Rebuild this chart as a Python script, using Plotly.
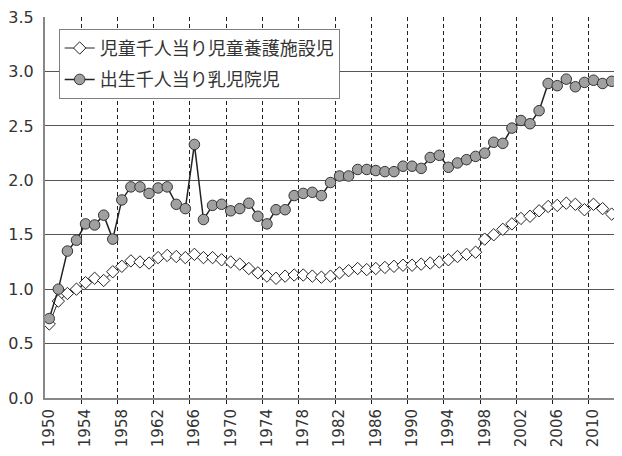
import plotly.graph_objects as go

years = list(range(1950, 2014))

name_children = "児童千人当り児童養護施設児"
name_births = "出生千人当り乳児院児"

children_rate = [
    0.68, 0.89, 0.96, 1.00, 1.06, 1.10, 1.08, 1.16, 1.21, 1.26,
    1.25, 1.24, 1.29, 1.31, 1.30, 1.29, 1.32, 1.29, 1.29, 1.27,
    1.25, 1.23, 1.19, 1.15, 1.12, 1.10, 1.12, 1.13, 1.13, 1.12,
    1.11, 1.12, 1.15, 1.17, 1.19, 1.18, 1.19, 1.20, 1.21, 1.22,
    1.22, 1.23, 1.24, 1.25, 1.27, 1.30, 1.32, 1.34, 1.46, 1.50,
    1.55, 1.60, 1.65, 1.67, 1.72, 1.76, 1.77, 1.79, 1.78, 1.73,
    1.78, 1.74, 1.69, 1.65,
]

births_rate = [
    0.73, 1.00, 1.35, 1.45, 1.60, 1.59, 1.68, 1.46, 1.82, 1.94,
    1.94, 1.88, 1.93, 1.94, 1.78, 1.74, 2.33, 1.64, 1.77, 1.78,
    1.72, 1.74, 1.79, 1.67, 1.60, 1.73, 1.73, 1.86, 1.88, 1.89,
    1.86, 1.98, 2.04, 2.04, 2.10, 2.10, 2.09, 2.08, 2.08, 2.13,
    2.13, 2.11, 2.21, 2.23, 2.12, 2.16, 2.19, 2.22, 2.25, 2.35,
    2.34, 2.48, 2.55, 2.52, 2.64, 2.89, 2.87, 2.93, 2.86, 2.90,
    2.92, 2.89, 2.91, 3.04,
]

x_tick_years = list(range(1950, 2014, 4))
x_tick_labels = [str(y) for y in x_tick_years]
x_boundaries = [y - 0.5 for y in range(1954, 2014, 4)]
y_ticks = [0.0, 0.5, 1.0, 1.5, 2.0, 2.5, 3.0, 3.5]

fig = go.Figure()
fig.add_trace(go.Scatter(
    x=years, y=children_rate, name=name_children, mode="lines+markers",
    legendgroup="a",
    line=dict(color="#222222", width=1),
    marker=dict(symbol="diamond", size=9.5, color="white",
                line=dict(color="#222222", width=1)),
))
fig.add_trace(go.Scatter(
    x=years, y=births_rate, name=name_births, mode="lines+markers",
    legendgroup="b",
    line=dict(color="#222222", width=1.5),
    marker=dict(symbol="circle", size=10.5, color="#a0a0a0",
                line=dict(color="#333333", width=1)),
))

# The page body has an 8px default margin; size the figure so the page does not overflow.
fig.update_layout(
    width=614, height=440,
    margin=dict(l=35, r=0, t=6, b=50),
    paper_bgcolor="white", plot_bgcolor="white",
    font=dict(family="DejaVu Sans, Noto Sans CJK JP", color="#333333", size=16),
    showlegend=True,
    legend=dict(
        x=0.0237, y=0.969, xanchor="left", yanchor="top",
        bgcolor="white", bordercolor="#808080", borderwidth=1,
        font=dict(family="Noto Sans CJK JP", size=18, color="#333333"),
        tracegroupgap=5,
    ),
)

fig.update_xaxes(
    range=[1949.53, 2013.14],
    tickmode="array", tickvals=x_tick_years, ticktext=x_tick_labels,
    tickangle=-90, ticks="", showgrid=False, zeroline=False,
    ticklabelstandoff=3,
    tickfont=dict(family="DejaVu Sans", size=15, color="#333333"),
    showline=True, linecolor="#888888", linewidth=2,
    minor=dict(tickmode="array", tickvals=x_boundaries, showgrid=True,
               gridcolor="#222222", gridwidth=1, griddash="4px,3px",
               ticks="outside", ticklen=4, tickcolor="#222222"),
)

fig.update_yaxes(
    range=[0, 3.501],
    tickmode="array", tickvals=y_ticks, tickformat=".1f",
    showgrid=True, gridcolor="#555555", gridwidth=1,
    zeroline=False, ticks="",
    ticklabelstandoff=6, ticklabeloverflow="allow",
    tickfont=dict(family="DejaVu Sans", size=16, color="#333333"),
    showline=True, linecolor="#888888", linewidth=2,
)

fig.write_html("out.html")
